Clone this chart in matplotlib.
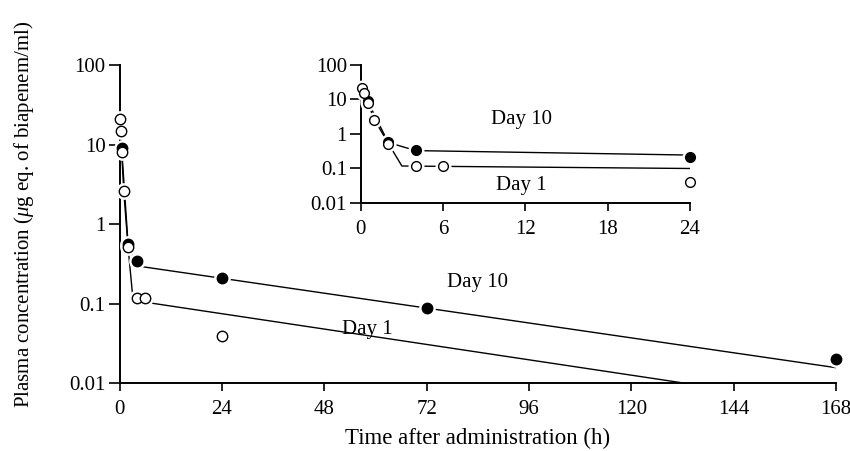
import matplotlib
matplotlib.use("Agg")
import matplotlib.pyplot as plt
import numpy as np

plt.rcParams['font.family'] = ['Liberation Serif', 'DejaVu Serif']
plt.rcParams['mathtext.fontset'] = 'custom'
plt.rcParams['mathtext.rm'] = 'Liberation Serif'
plt.rcParams['mathtext.it'] = 'Liberation Serif:italic'

# ---- data ----
day1_t = [0.1, 0.25, 0.5, 1, 2, 4, 6, 24]
day1_c = [21, 15, 8.1, 2.6, 0.52, 0.117, 0.117, 0.04]
day10_t = [0.5, 2, 4, 24, 72, 168]
day10_c = [9, 0.57, 0.35, 0.21, 0.089, 0.0205]

# fitted curves (main panel)
fit1_t = [0.1, 0.25, 0.5, 1, 2, 3, 6, 133]
fit1_c = [21, 15, 8.1, 2.6, 0.52, 0.14, 0.105, 0.01]
fit10_t = [0.5, 2, 4, 168]
fit10_c = [9, 0.57, 0.30, 0.0158]

# fitted curves (inset, 0-24 h)
ifit1_t = [0.1, 0.25, 0.5, 1, 2, 3, 24]
ifit1_c = [21, 15, 8.1, 2.6, 0.54, 0.118, 0.1]
ifit10_t = [0.5, 2, 4, 24]
ifit10_c = [9, 0.57, 0.33, 0.245]

main_xticks = [0, 24, 48, 72, 96, 120, 144, 168]
inset_xticks = [0, 6, 12, 18, 24]
yticks = [0.01, 0.1, 1, 10, 100]
ytick_labels = ['0.01', '0.1', '1', '10', '100']

FS = 15

fig = plt.figure(figsize=(8.5, 4.51), dpi=100)
ax = fig.add_axes([0.1406, 0.1497, 0.8429, 0.7062])
axi = fig.add_axes([0.4244, 0.5499, 0.3874, 0.3060])


def style(a, xticks, xmax):
    a.set_yscale('log')
    a.set_ylim(0.01, 100)
    a.set_xlim(0, xmax)
    a.set_xticks(xticks)
    a.set_xticklabels([str(v) for v in xticks], fontsize=FS)
    a.set_yticks(yticks)
    a.set_yticklabels(ytick_labels, fontsize=FS)
    a.yaxis.set_minor_locator(matplotlib.ticker.NullLocator())
    for s in ['top', 'right']:
        a.spines[s].set_visible(False)
    for s in ['left', 'bottom']:
        a.spines[s].set_linewidth(1.4)
    a.tick_params(axis='y', direction='out', length=8, width=1.2, pad=2)
    a.tick_params(axis='x', direction='out', length=6, width=1.2, pad=6)
    a.patch.set_alpha(0)


def series(a, t, c, filled, ms):
    a.plot(t, c, ls='none', marker='o', ms=ms + 3.5, mfc='white', mec='white',
           zorder=3, clip_on=False)
    a.plot(t, c, ls='none', marker='o', ms=ms, mfc='black' if filled else 'white',
           mec='black', mew=1.0, zorder=4, clip_on=False)


# main panel
ax.plot(fit1_t, fit1_c, color='black', lw=1.0, zorder=2)
ax.plot(fit10_t, fit10_c, color='black', lw=1.0, zorder=2)
series(ax, day10_t, day10_c, True, 7.5)
series(ax, day1_t, day1_c, False, 7.5)
style(ax, main_xticks, 168)
ax.set_xlabel('Time after administration (h)', fontsize=16.5, labelpad=6)
ax.set_ylabel(r'Plasma concentration ($\mu$g eq. of biapenem/ml)', fontsize=15)
ax.yaxis.set_label_coords(-0.117, 0.53)
ax.text(84, 0.184, 'Day 10', fontsize=FS, ha='center', va='center')
ax.text(58, 0.047, 'Day 1', fontsize=FS, ha='center', va='center')

# inset panel
in10_t = [t for t in day10_t if t <= 24]
in10_c = [c for t, c in zip(day10_t, day10_c) if t <= 24]
axi.plot(ifit1_t, ifit1_c, color='black', lw=1.0, zorder=2)
axi.plot(ifit10_t, ifit10_c, color='black', lw=1.0, zorder=2)
series(axi, in10_t, in10_c, True, 7)
series(axi, day1_t, day1_c, False, 7)
style(axi, inset_xticks, 24)
axi.text(11.7, 2.55, 'Day 10', fontsize=FS, ha='center', va='center')
axi.text(11.7, 0.032, 'Day 1', fontsize=FS, ha='center', va='center')

fig.savefig('out.png', dpi=100)
